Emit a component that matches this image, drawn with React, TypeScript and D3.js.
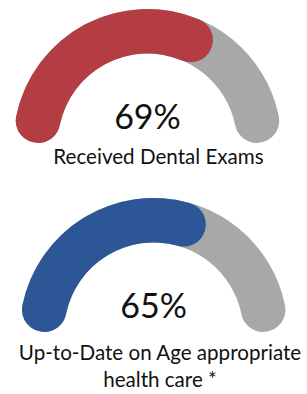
import { useMemo } from 'react';
import * as d3 from 'd3';

const WIDTH = 307;
const HEIGHT = 394;

// gauge data
const gaugeValues = [69, 65];
const gaugeLabels = [["Received Dental Exams"], ["Up-to-Date on Age appropriate", "health care *"]];
const gaugeColors = ["#b33d42", "#2c5696"];
const TRACK_COLOR = "#a6a9a7";

// layout of each gauge (center of the arc, label anchor)
const layout = [
  { cx: 147.5, cy: 143, labelX: 158.5, labelY: 164 },
  { cx: 153.7, cy: 332, labelX: 160, labelY: 360 },
];

const OUTER_R = 134;
const THICKNESS = 44.5;

type GaugeProps = {
  value: number;
  label: string[];
  color: string;
  cx: number;
  cy: number;
  labelX: number;
  labelY: number;
};

const Gauge = ({ value, label, color, cx, cy, labelX, labelY }: GaugeProps) => {
  const angle = useMemo(
    () => d3.scaleLinear().domain([0, 100]).range([-Math.PI / 2, Math.PI / 2]),
    []
  );

  const arc = d3
    .arc<{ startAngle: number; endAngle: number }>()
    .innerRadius(OUTER_R - THICKNESS)
    .outerRadius(OUTER_R)
    .cornerRadius(THICKNESS / 2);

  const track = arc({ startAngle: angle(0), endAngle: angle(100) }) || "";
  const bar = arc({ startAngle: angle(0), endAngle: angle(value) }) || "";

  return (
    <g>
      <g transform={`translate(${cx},${cy})`}>
        <path d={track} fill={TRACK_COLOR} />
        <path d={bar} fill={color} />
        <text
          x={0}
          y={-14}
          textAnchor="middle"
          fontFamily="Lato"
          fontSize={34}
          fill="#111"
        >
          {value}%
        </text>
      </g>
      {label.map((line, i) => (
        <text
          key={line}
          x={labelX}
          y={labelY + i * 27}
          textAnchor="middle"
          fontFamily="Lato"
          fontSize={20.6}
          fill="#111"
        >
          {line}
        </text>
      ))}
    </g>
  );
};

export default function App() {
  return (
    <div style={{ position: 'absolute', left: 0, top: 0 }}>
      <svg width={WIDTH} height={HEIGHT}>
        <rect width={WIDTH} height={HEIGHT} fill="#fff" />
        {gaugeValues.map((v, i) => (
          <Gauge
            key={i}
            value={v}
            label={gaugeLabels[i]}
            color={gaugeColors[i]}
            {...layout[i]}
          />
        ))}
      </svg>
    </div>
  );
}
